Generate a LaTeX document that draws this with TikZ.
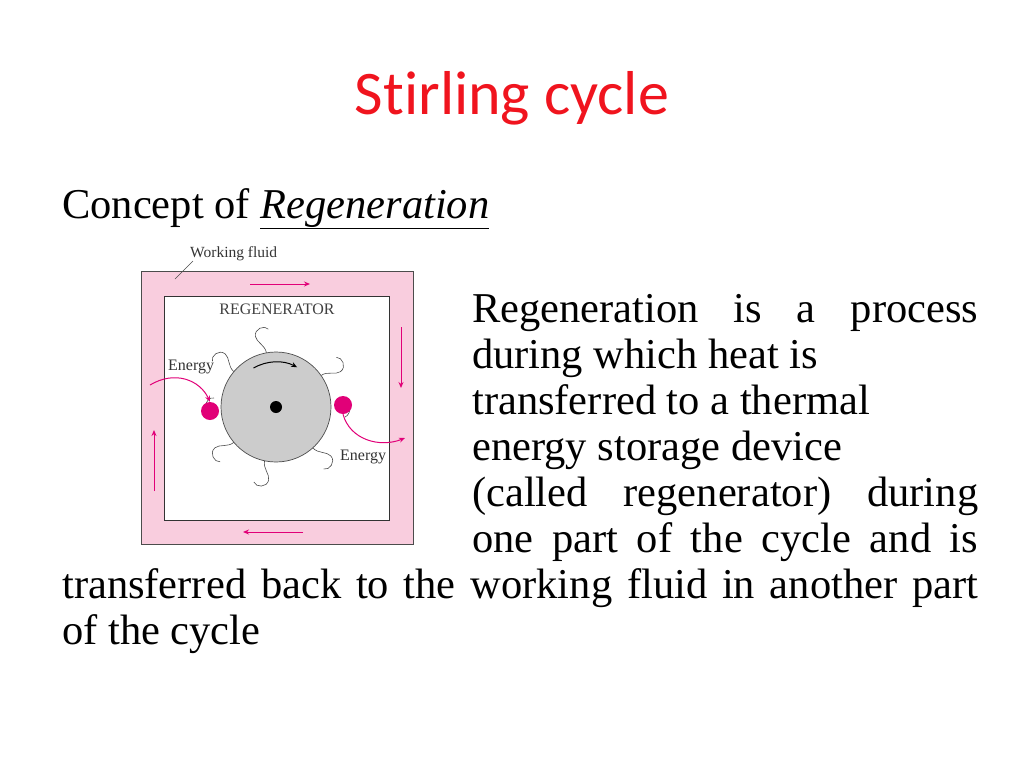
\documentclass[tikz,border=0pt]{standalone}
\usepackage{fontspec}
\setmainfont{Liberation Serif}
\newfontfamily\titlefont[Ligatures={NoCommon,NoDiscretionary}]{Carlito}
\newfontfamily\figfont{Liberation Serif}
\usetikzlibrary{arrows.meta}
\definecolor{slidered}{RGB}{240,20,30}
\definecolor{mag}{RGB}{225,0,120}
\definecolor{pinkfill}{RGB}{249,205,222}
\begin{document}
\begin{tikzpicture}[x=1pt,y=-1pt,
  body/.style={anchor=base west,inner sep=0,font=\fontsize{42.5}{48}\selectfont},
  flow/.style={mag,line width=1pt,-{Stealth[length=6pt,width=5pt]}},
  hook/.style={line width=0.6pt,black!70}]
\useasboundingbox (0,0) rectangle (1024,768);
\node[font=\titlefont\fontsize{62}{70}\selectfont,text=slidered] (title) at (512,98) {Stirling cycle};
\node[body] (concept) at (62,218) {Concept of \underline{\textit{Regeneration}}};
% figure
\draw[fill=pinkfill,draw=black!70,line width=0.6pt] (141,271) rectangle (413,544);
\draw[fill=white,draw=black!80,line width=0.8pt] (164,296) rectangle (389,520);
\node[font=\figfont\fontsize{15.5}{17}\selectfont,anchor=base west,inner sep=0,text=black!80] (wf) at (190,257) {Working fluid};
\draw[black!70,line width=0.5pt] (193,261) -- (175,279);
\node[font=\figfont\fontsize{16}{18}\selectfont,inner sep=0,text=black!75] (reg) at (277,309) {REGENERATOR};
\draw[flow] (250,284) -- (310,284);
\draw[flow] (401,327) -- (401,388);
\draw[flow] (303,532) -- (243,532);
\draw[flow] (154,491) -- (154,430);
\begin{scope}[shift={(276,407)}]
  \foreach \a/\s in {-102/1,-48/1,-140/-1,35/-1,100/1,140/-1}{
    \draw[hook,rotate=\a] (55,0) .. controls (63,0) and (67,-8*\s) .. (73,-8*\s) .. controls (81,-8*\s) and (83,3*\s) .. (78,6*\s);
  }
  \draw[hook] (-62,-9) .. controls (-72,-11) and (-74,9) .. (-64,11);
  \draw[hook] (67,-9) .. controls (76,-7) and (76,7) .. (69,10);
  \draw[fill=black!20,draw=black!70,line width=0.7pt] (0,0) circle (55);
  \fill (0,0) circle (6);
  \draw[black,line width=1pt,-{Stealth[length=6pt,width=5pt]}] (-120:45) arc[start angle=-120,end angle=-62,radius=45];
\end{scope}
\node[circle,fill=mag,minimum size=18pt,inner sep=0] (d1) at (210,411) {};
\node[circle,fill=mag,minimum size=18pt,inner sep=0] (d2) at (343,405) {};
\coordinate (e1) at (150,385);
\coordinate (e2) at (405,438);
\draw[flow] (e1) .. controls (175,370) and (200,380) .. (d1.north);
\draw[flow] (d2.south) .. controls (350,440) and (380,448) .. (e2);
\node[font=\figfont\fontsize{16}{18}\selectfont,inner sep=0,anchor=base west,text=black!80] (en1) at (168,370) {Energy};
\node[font=\figfont\fontsize{16}{18}\selectfont,inner sep=0,anchor=base west,text=black!80] (en2) at (340,460) {Energy};
% text
\node[body] (l1) at (472,322) {\makebox[506pt][s]{Regeneration is a process}};
\node[body] (l2) at (472,368) {during which heat is};
\node[body] (l3) at (472,414) {transferred to a thermal};
\node[body] (l4) at (472,460) {energy storage device};
\node[body] (l5) at (472,506) {\makebox[506pt][s]{(called regenerator) during}};
\node[body] (l6) at (472,552) {\makebox[506pt][s]{one part of the cycle and is}};
\node[body] (l7) at (62,598) {\makebox[916pt][s]{transferred back to the working fluid in another part}};
\node[body] (l8) at (62,644) {of the cycle};
\end{tikzpicture}
\end{document}
